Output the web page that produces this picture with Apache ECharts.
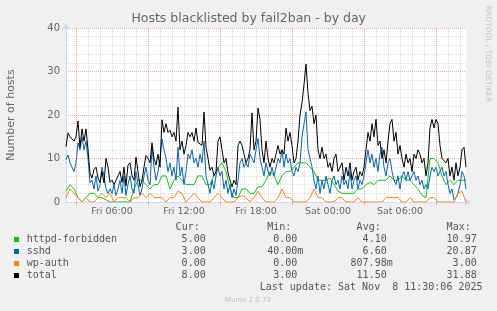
<!DOCTYPE html>
<html><head><meta charset="utf-8">
<script src="https://cdn.jsdelivr.net/npm/echarts@6/dist/echarts.min.js"></script>
<style>html,body{margin:0;padding:0;background:#F0F0F0;}#c{width:497px;height:311px;}</style>
</head><body><div id="c"></div>
<script>
// time axis: hours since Fri 00:00
const startHour = 13 / 6;      // first sample (Fri 02:10)
const fineStep = 1 / 6;        // 10 min between samples (sshd, total)
const coarseStep = 1 / 3;      // 20 min between samples (httpd, wp-auth)
const endHour = 35.5;
const tickHours = [6, 12, 18, 24, 30];
const tickLabels = ['Fri 06:00', 'Fri 12:00', 'Fri 18:00', 'Sat 00:00', 'Sat 06:00'];

const httpd = [2.5,4,3,1,0,1,2,2,1,1,0.5,0,0,0,0,0,0,3,5,5,4,3,4,4,6,6,3,5,6,5,4,4,4,6,6,4,4,6,8,9,7,3,1,1,3,3,2,2,3.5,3.5,5,7,6,4,6,7,7,8,9,9,9,8,7,5,5,5,5.5,4,2.5,2,2,2,2,3,3,4,4.5,4,5,5,5,6,5,5,6,5,5,4,3,1.5,1,10,10,9,6,4,5,4,5,5,5];
const wpauth = [1,3,2,1,0,1,0,0,1,2,1,2,0,1,1,1,0,1,1,2,1,2,1,1,1,0,1,1,2.5,2,0,1,2,1,0,0,0,1,2,1,0,0,0,1,1.5,1,0,1,2.5,1,0,0,0,1,3,1,1,0,0,0,0,1,3,1,1,0,0,0,1,1,0,0,0,1,0,0,0,0,0,0,1,1,1,1,0,0,1,0,0,0,0,1,1,0,0,0,0,0,2,2.5,0];
const sshd = [9.7,10.8,9,8,7,9,13.6,12,15,12,14,10,4.4,5,3,6,2.5,4,8,6,3,2,3,2,4,1.5,3,5,2,6,1.5,4,6,3,2,7,4,1.5,3,6,8,5,4,12.5,8,5,7,10,14.5,12,10,7,9,6,8,5,12.6,6,8,4,7,11,10,12,9,10,8,11,9,14,6,4,2,5,3,6,8,6,7,3,5,2,4,1,3,1.5,5,9,10,8,9,8,11,10,9,12,14.6,10,8,6,9,7,6,8,6,8,10,9,12,8,11,9,10,7,6,8,7,9,15,18,20.7,12,10,8,5,3,6,2,5,3,6,4,2,5,6,4,5,3,6,4,5,3,7,3,5,6,3,5,4,6,9,12,9,11,8,10,7,11,12.6,8,6,9,10,7,5,4,6,3,6,7,5,7,5,6,7,5,6,4,5,3,4,3,6,8,7,8,6,7,8,6,7,4,2,3,0.5,1,2,4,7,6,3];
const total = [12.7,15.9,15,15,14,15,18.6,12.6,16.8,14,16.8,12,6.6,5.5,7.5,8,5.5,4.5,7,4.4,10,8,4.5,5,4,3.7,6,7,4.5,8,3.7,8.5,9,6,5,10.3,7,3.5,5,8,10.7,10,9,13.6,10,8.5,11,8,18.9,16,18,16,16.5,15,16,14,21.8,12,14,11,13,16,15,16,14,17,13.7,14,13,20.7,12.6,10,7.3,8,6,7,14,15,12,9,10,6.7,5,3.5,5,4,13,14,13,11,9,10,12,20.5,12,14,21.6,19,12,9,14,10,8,10,9,11,13,11,12,11,17,14,16,13,9,10,14,20,22.8,27,31.7,25,21,22,18,20,12,10,12.6,10,11,8,9,7,10,11,7,6.7,9,5,8,6,9,5,7,8,5,7,6,8,12,16,14,18,15,19,13,14,10,12,9,14,18,19,14,16,11,13,10,8,11,9,10,7,11,10,12,11,9,10,6,9,17,19,17,19,18,13,10,10,9,10,6,8,5,9,6,8,12,12.6,8];

const legendNames = ['httpd-forbidden', 'sshd', 'wp-auth', 'total'];
const legendColors = ['#00CC00', '#0066B3', '#FF8000', '#000000'];
const curVals = ['5.00', '3.00', '0.00', '8.00'];
const minVals = ['0.00', '40.00m', '0.00', '3.00'];
const avgVals = ['4.10', '6.60', '807.98m', '11.50'];
const maxVals = ['10.97', '20.87', '3.00', '31.88'];
const statHeaders = ['Cur:', 'Min:', 'Avg:', 'Max:'];
const lastUpdate = 'Last update: Sat Nov  8 11:30:06 2025';

const seriesData = [httpd, sshd, wpauth, total];
const seriesSteps = [coarseStep, fineStep, coarseStep, fineStep];
const toPts = (arr, step) => arr.map((v, i) => [startHour + i * step, v]);

const minorHours = [], majorHours = [];
for (let h = Math.ceil(startHour); h < endHour; h++) {
  if ((h - 3) % 6 === 0) majorHours.push(h); else minorHours.push(h);
}

const FONT = "'DejaVu Sans', sans-serif";
const MONO = "'DejaVu Sans Mono', monospace";
const gridColor = 'rgba(143,143,143,0.3)';
const mgridColor = 'rgba(222,79,79,0.5)';

const chart = echarts.init(document.getElementById('c'), null, {renderer: 'canvas'});

const graphics = [];
graphics.push({type: 'text', x: 248.7, y: 19, style: {text: 'Hosts blacklisted by fail2ban - by day', font: '12.5px ' + FONT, fill: '#666', align: 'center', verticalAlign: 'middle'}});
graphics.push({type: 'text', x: 11, y: 115, rotation: Math.PI / 2, style: {text: 'Number of hosts', font: '11px ' + FONT, fill: '#666', align: 'center', verticalAlign: 'middle'}});
graphics.push({type: 'text', x: 488, y: 54, rotation: -Math.PI / 2, style: {text: 'RRDTOOL / TOBI OETIKER', font: '7.5px ' + FONT, fill: '#c4c4c4', align: 'center', verticalAlign: 'middle'}});
const colR = [211.7, 303.3, 392.7, 482.7];
const rowY0 = 239.7, rowH = 12;
statHeaders.forEach((h, j) => {
  graphics.push({type: 'text', x: colR[j] - 12, y: rowY0 - rowH, style: {text: h, font: '10px ' + MONO, fill: '#555', align: 'right', verticalAlign: 'middle'}});
});
const cols = [curVals, minVals, avgVals, maxVals];
legendNames.forEach((n, i) => {
  const y = rowY0 + i * rowH;
  graphics.push({type: 'rect', shape: {x: 14, y: y - 2.7, width: 5, height: 5}, style: {fill: legendColors[i]}});
  graphics.push({type: 'text', x: 26.7, y: y, style: {text: n, font: '10px ' + MONO, fill: '#555', align: 'left', verticalAlign: 'middle'}});
  cols.forEach((c, j) => {
    const v = c[i];
    const r = /m$/.test(v) ? colR[j] : colR[j] - 6;
    graphics.push({type: 'text', x: r, y: y, style: {text: v, font: '10px ' + MONO, fill: '#555', align: 'right', verticalAlign: 'middle'}});
  });
});
graphics.push({type: 'text', x: 482.5, y: rowY0 + 4 * rowH, style: {text: lastUpdate, font: '10px ' + MONO, fill: '#555', align: 'right', verticalAlign: 'middle'}});
graphics.push({type: 'text', x: 248, y: 300.3, style: {text: 'Munin 2.0.73', font: '7px ' + FONT, fill: '#c0c0c0', align: 'center', verticalAlign: 'middle'}});

const mkLines = (hours, color) => hours.map(h => ({xAxis: h, lineStyle: {color: color, type: [1, 1], width: 1}}));

const series = [{
  type: 'line', data: [[startHour, null]], z: 1, silent: true, symbol: 'none',
  markLine: {silent: true, symbol: ['none', 'none'], label: {show: false}, animation: false,
    data: mkLines(minorHours, gridColor).concat(mkLines(majorHours, mgridColor))}
}];
seriesData.forEach((arr, i) => {
  series.push({type: 'line', name: legendNames[i], data: toPts(arr, seriesSteps[i]), symbol: 'none', showSymbol: false, z: 3 + i,
    lineStyle: {width: 1, color: legendColors[i]}, itemStyle: {color: legendColors[i]}, animation: false});
});

chart.setOption({
  animation: false,
  backgroundColor: '#F0F0F0',
  grid: {left: 66, top: 28, width: 400, height: 174, show: true, backgroundColor: '#FFFFFF', borderWidth: 0},
  xAxis: {
    type: 'value', min: startHour, max: endHour,
    axisLine: {show: true, onZero: false, lineStyle: {color: '#CFD6F8', width: 1}, symbol: ['none', 'arrow'], symbolSize: [6, 7], symbolOffset: [0, 5]},
    axisTick: {show: true, customValues: majorHours, length: 3, lineStyle: {color: mgridColor}},
    axisLabel: {show: true, customValues: tickHours, formatter: v => { const k = tickHours.indexOf(Math.round(v)); return k >= 0 ? tickLabels[k] : ''; }, color: '#666', fontSize: 9.5, fontFamily: FONT, margin: 5},
    splitLine: {show: false}
  },
  yAxis: {
    type: 'value', min: 0, max: 40, interval: 10,
    axisLine: {show: true, lineStyle: {color: '#CFD6F8', width: 1}, symbol: ['none', 'arrow'], symbolSize: [6, 7], symbolOffset: [0, 5]},
    axisTick: {show: false},
    axisLabel: {color: '#666', fontSize: 10, fontFamily: FONT, margin: 6},
    splitLine: {show: true, lineStyle: {color: mgridColor, type: [1, 1], width: 1}},
    minorTick: {show: false, splitNumber: 5},
    minorSplitLine: {show: true, lineStyle: {color: gridColor, type: [1, 1], width: 1}}
  },
  graphic: graphics,
  series: series
});
</script>
</body></html>
